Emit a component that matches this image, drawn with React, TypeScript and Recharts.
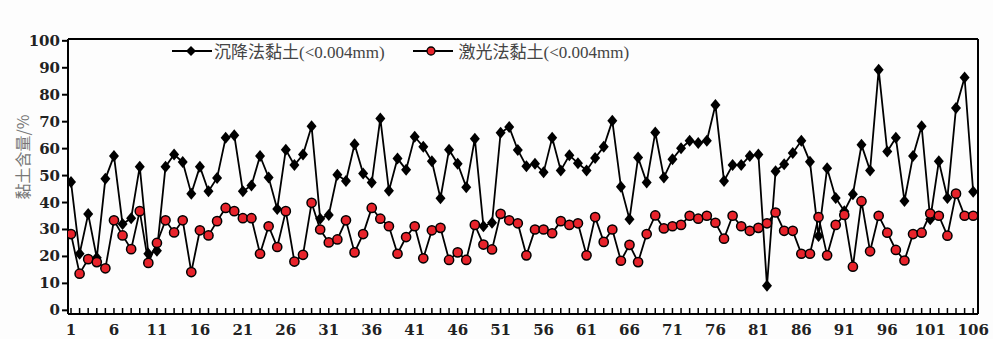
import React from 'react';
import { LineChart, Line, XAxis, YAxis, Legend, ReferenceLine } from 'recharts';

const sampleIndex: number[] = Array.from({ length: 106 }, (_, i) => i + 1);

const sedimentation: number[] = [
  47.6, 21, 35.7, 19.5, 48.8, 57.3, 32, 34.2, 53.3, 21,
  22.1, 53.3, 57.8, 55, 43.3, 53.3, 44.2, 49.1, 64, 65,
  44.2, 46.3, 57.3, 49.3, 37.6, 59.6, 53.9, 57.8, 68.3, 34,
  35.4, 50.3, 48, 61.6, 50.8, 47.4, 71.2, 44.4, 56.3, 52.2,
  64.4, 60.7, 55.3, 41.6, 59.6, 54.4, 45.7, 63.7, 31.2, 32.5,
  65.9, 68, 59.5, 53.5, 54.4, 51.2, 64, 51.9, 57.5, 54.6,
  51.9, 56.5, 60.7, 70.3, 45.9, 33.8, 56.7, 47.4, 66, 49.3,
  56.1, 60.1, 62.9, 62.1, 62.9, 76.2, 48, 53.9, 53.9, 57.3,
  57.8, 9.1, 51.6, 54.2, 58.4, 62.9, 55.1, 27.6, 52.7, 41.7,
  36.8, 43.1, 61.4, 51.9, 89.3, 58.9, 64, 40.6, 57.3, 68.3,
  33.8, 55.3, 41.7, 75.1, 86.4, 44,
];

const laser: number[] = [
  28.3, 13.6, 19, 17.9, 15.6, 33.4, 27.8, 22.7, 36.8, 17.6,
  25, 33.4, 28.9, 33.4, 14.2, 29.7, 27.8, 33.1, 38, 36.8,
  34.2, 34.2, 21, 31.2, 23.5, 36.8, 18.1, 20.6, 39.9, 30,
  25.2, 26.3, 33.4, 21.5, 28.3, 38, 34, 31.2, 21, 27.2,
  31.2, 19.3, 29.7, 30.6, 18.7, 21.5, 18.7, 31.7, 24.4, 22.6,
  35.8, 33.4, 32.3, 20.4, 30, 30, 28.6, 33.1, 31.7, 32.3,
  20.4, 34.6, 25.4, 30, 18.4, 24.3, 17.9, 28.3, 35.2, 30.4,
  31.2, 31.7, 35.1, 34, 35.1, 32.5, 26.6, 35.1, 31.2, 29.5,
  30.6, 32.3, 36.3, 29.5, 29.5, 21, 21, 34.6, 20.4, 31.7,
  35.4, 16.2, 40.5, 21.9, 35.1, 28.8, 22.4, 18.5, 28.3, 28.8,
  35.9, 35.1, 27.7, 43.3, 35.1, 35.1,
];

const xTickLabels: number[] = [1, 6, 11, 16, 21, 26, 31, 36, 41, 46, 51, 56, 61, 66, 71, 76, 81, 86, 91, 96, 101, 106];
const yTicks: number[] = [0, 10, 20, 30, 40, 50, 60, 70, 80, 90, 100];

const seriesNames = ['沉降法黏土(<0.004mm)', '激光法黏土(<0.004mm)'];
const yAxisTitle = '黏土含量/%';

const X_DOMAIN: [number, number] = [0.65, 106.56];
const Y_DOMAIN: [number, number] = [-1.36, 100.68];

const data = sampleIndex.map((idx, i) => ({ idx, sed: sedimentation[i], las: laser[i] }));

const tickFont = '"DejaVu Serif", "Liberation Serif", serif';
const legendFont = '"Liberation Serif", "Noto Sans CJK SC", serif';

const XTick = (props: any) => {
  const { x, y, payload } = props;
  const show = xTickLabels.includes(payload.value);
  return (
    <g>
      <line x1={x} x2={x} y1={y} y2={y - 6} stroke="#000" strokeWidth={1.5} />
      {show && (
        <text x={x} y={y + 21} textAnchor="middle" fontFamily={tickFont} fontSize={15} fontWeight="bold" fill="#222">
          {payload.value}
        </text>
      )}
    </g>
  );
};

const YTick = (props: any) => {
  const { x, y, payload } = props;
  return (
    <text x={x} y={y} dy={5} textAnchor="end" fontFamily={tickFont} fontSize={15} fontWeight="bold" fill="#222">
      {payload.value}
    </text>
  );
};

const YTitle = () => (
  <text
    transform="translate(22,157) rotate(-90)"
    textAnchor="middle"
    dominantBaseline="central"
    fontFamily='"Noto Sans CJK SC", sans-serif'
    fontSize={16}
    fill="#777"
  >
    {yAxisTitle}
  </text>
);

const Diamond = (props: any) => {
  const { cx, cy, index } = props;
  if (cx == null || cy == null) return <g key={index} />;
  return <path key={index} d={`M${cx},${cy - 6}L${cx + 5},${cy}L${cx},${cy + 6}L${cx - 5},${cy}Z`} fill="#000" />;
};

const RedDot = (props: any) => {
  const { cx, cy, index } = props;
  if (cx == null || cy == null) return <g key={index} />;
  return <circle key={index} cx={cx} cy={cy} r={4.6} fill="#e8232b" stroke="#000" strokeWidth={1.5} />;
};

const LegendContent = () => (
  <div style={{ display: 'flex', alignItems: 'center', fontFamily: legendFont, fontSize: 17, color: '#444', whiteSpace: 'nowrap' }}>
    <svg width={40} height={14} style={{ marginRight: 2 }}>
      <line x1={0} y1={7} x2={40} y2={7} stroke="#000" strokeWidth={2} />
      <path d="M19,2L24,7L19,12L14,7Z" fill="#000" />
    </svg>
    <span>{seriesNames[0]}</span>
    <svg width={40} height={14} style={{ marginLeft: 28, marginRight: 6 }}>
      <line x1={0} y1={7} x2={40} y2={7} stroke="#000" strokeWidth={2} />
      <circle cx={18} cy={7} r={4} fill="#e8232b" stroke="#000" strokeWidth={1.3} />
    </svg>
    <span>{seriesNames[1]}</span>
  </div>
);

export default function App() {
  return (
    <div style={{ position: 'absolute', left: 0, top: 0, width: 993, height: 339, background: '#fdfdfd' }}>
      <LineChart width={993} height={339} data={data} margin={{ top: 14, right: 15, bottom: 0, left: 0 }}>
        <XAxis
          xAxisId="b"
          type="number"
          dataKey="idx"
          domain={X_DOMAIN}
          ticks={sampleIndex}
          interval={0}
          allowDataOverflow
          height={25}
          tickSize={0}
          tickMargin={0}
          tickLine={false}
          tick={<XTick />}
          axisLine={{ stroke: '#000', strokeWidth: 2 }}
        />
        <YAxis
          yAxisId="l"
          type="number"
          domain={Y_DOMAIN}
          ticks={yTicks}
          interval={0}
          allowDataOverflow
          width={68}
          tickSize={6}
          tickMargin={2}
          tickLine={{ stroke: '#000', strokeWidth: 2 }}
          tick={<YTick />}
          axisLine={{ stroke: '#000', strokeWidth: 2 }}
          label={{ content: () => <YTitle /> }}
        />
        <ReferenceLine xAxisId="b" yAxisId="l" y={Y_DOMAIN[1]} stroke="#000" strokeWidth={2} ifOverflow="visible" />
        <ReferenceLine xAxisId="b" yAxisId="l" x={X_DOMAIN[1]} stroke="#000" strokeWidth={2} ifOverflow="visible" />
        <Legend verticalAlign="top" align="left" content={<LegendContent />} wrapperStyle={{ position: 'absolute', top: 38, left: 172, width: 'auto' }} />
        <Line xAxisId="b" yAxisId="l" dataKey="sed" name={seriesNames[0]} stroke="#000" strokeWidth={1.8} dot={Diamond} activeDot={false} isAnimationActive={false} />
        <Line xAxisId="b" yAxisId="l" dataKey="las" name={seriesNames[1]} stroke="#000" strokeWidth={1.8} dot={RedDot} activeDot={false} isAnimationActive={false} />
      </LineChart>
    </div>
  );
}
